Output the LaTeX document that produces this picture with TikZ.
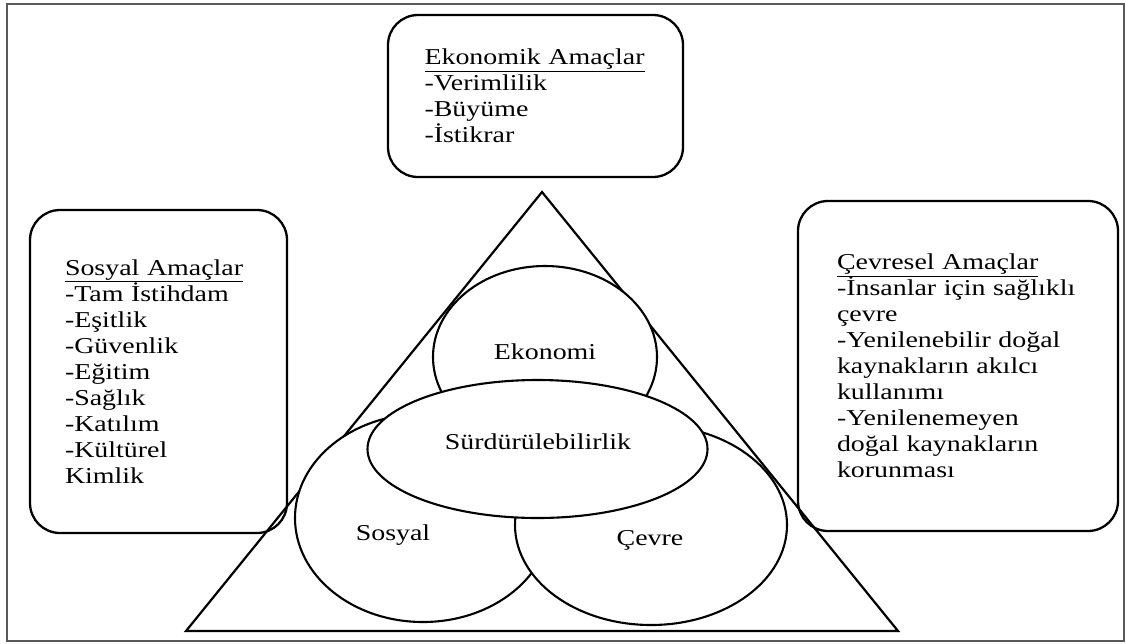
\documentclass[tikz,border=0pt]{standalone}
\usepackage{fontspec}
\setmainfont{Liberation Serif}[FakeStretch=1.23]
\usepackage{tikz}
\usetikzlibrary{positioning}
\colorlet{frame color}{black!65}
\tikzset{goalbox/.style={draw, line width=2.3pt, rounded corners=30pt, inner sep=0pt, align=left}}
\tikzset{pillar/.style={draw, line width=2.1pt, fill=white}}
\tikzset{wordlabel/.style={inner sep=0pt}}
\newcommand{\textsz}{\fontsize{22.7}{26}\selectfont}

\begin{document}
\begin{tikzpicture}[x=1pt, y=-1pt, font=\textsz]
                \useasboundingbox (0, 0) rectangle (1126, 643);
                \draw[frame color, line width=1.6pt] (7, 4) rectangle (1124, 641);
                % triangle
                \coordinate (apex) at (542, 192);
                \coordinate (baseright) at (898, 631);
                \coordinate (baseleft) at (186, 631);
                \draw[line width=2.2pt, line join=miter] (apex) -- (baseright) -- (baseleft) -- cycle;
                % the four circles
                \draw[pillar] (545, 357) ellipse [x radius=112, y radius=91];
                \draw[pillar] (423, 518) ellipse [x radius=128, y radius=104];
                \draw[pillar] (651, 525) ellipse [x radius=136, y radius=100];
                \draw[pillar] (537.5, 449) ellipse [x radius=170, y radius=69];
                \node[wordlabel] (ekonomi) at (545, 352) {Ekonomi};
                \node[wordlabel] (surdur) at (538, 442) {Sürdürülebilirlik};
                \node[wordlabel] (sosyal) at (393, 535) {Sosyal};
                \node[wordlabel] (cevre) at (650, 540) {Çevre};
                % goal boxes
                \node[goalbox, minimum width=295pt, minimum height=162pt, text width=222pt] (ekoamac) at (535.5, 96)
                    {\underline{Ekonomik Amaçlar}\\-Verimlilik\\-Büyüme\\-İstikrar};
                \node[goalbox, minimum width=257pt, minimum height=323pt, text width=187pt] (sosamac) at (158.5, 371.5)
                    {\underline{Sosyal Amaçlar}\\-Tam İstihdam\\-Eşitlik\\-Güvenlik\\-Eğitim\\-Sağlık\\-Katılım\\-Kültürel\\Kimlik};
                \node[goalbox, minimum width=320pt, minimum height=330pt, text width=242pt] (cevamac) at (958, 366)
                    {\underline{Çevresel Amaçlar}\\-İnsanlar için sağlıklı\\çevre\\-Yenilenebilir doğal\\kaynakların akılcı\\kullanımı\\-Yenilenemeyen\\doğal kaynakların\\korunması};
            \end{tikzpicture}
\end{document}
